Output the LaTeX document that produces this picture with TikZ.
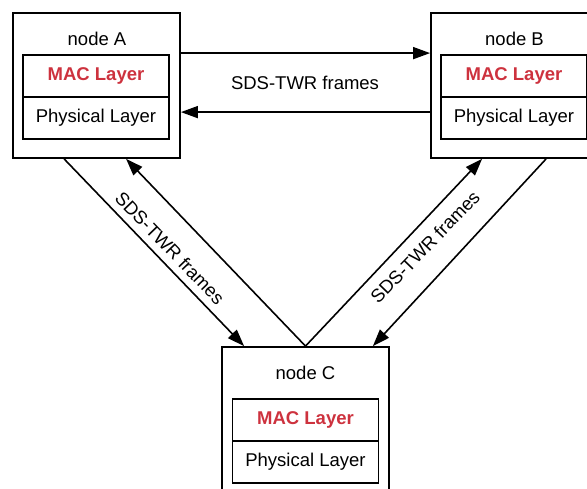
\documentclass[tikz,border=0pt]{standalone}
\usepackage{fontspec}
\setmainfont{Liberation Sans}
\usetikzlibrary{arrows.meta}
\definecolor{macred}{RGB}{205,50,62}

\tikzset{
  outerbox/.style={draw,line width=1.8pt,minimum width=167pt,minimum height=145pt,inner sep=0pt},
  layerbox/.style={draw,line width=1.8pt,minimum width=146pt,minimum height=42pt,inner sep=0pt},
  maclayer/.style={layerbox,text=macred,font=\fontsize{18.5}{22}\selectfont\bfseries},
  frame/.style={-{Triangle[length=17pt,width=12pt]},line width=1.6pt},
}

\begin{document}
\begin{tikzpicture}[x=1pt,y=-1pt,font=\fontsize{18.5}{22}\selectfont]
 	 	\useasboundingbox (0,0) rectangle (587,489);
 	 	\clip (0,0) rectangle (587,489);

 	 	\node[outerbox] (boxA) at (96.5,85.5) {};
 	 	\node[outerbox] (boxB) at (514.5,85.5) {};
 	 	\node[outerbox] (boxC) at (305.5,419.5) {};

 	 	\node (titleA) at (97,39) {node A};
 	 	\node (titleB) at (514.5,39) {node B};
 	 	\node (titleC) at (305.5,373) {node C};

 	 	\node[maclayer] (macA) at (96,76) {MAC Layer};
 	 	\node[layerbox] (phyA) at (96,118) {Physical Layer};
 	 	\node[maclayer] (macB) at (514,76) {MAC Layer};
 	 	\node[layerbox] (phyB) at (514,118) {Physical Layer};
 	 	\node[maclayer] (macC) at (305.5,420) {MAC Layer};
 	 	\node[layerbox] (phyC) at (305.5,462) {Physical Layer};

 	 	\draw[frame] ([yshift=-41pt]boxA.north east) -- ([yshift=-41pt]boxB.north west);
 	 	\draw[frame] ([yshift=-100pt]boxB.north west) -- ([yshift=-100pt]boxA.north east);
 	 	\draw[frame] ([xshift=52pt]boxA.south west) -- ([xshift=23pt]boxC.north west);
 	 	\draw[frame] (boxC.north) -- ([xshift=114pt]boxA.south west);
 	 	\draw[frame] (boxC.north) -- ([xshift=52pt]boxB.south west);
 	 	\draw[frame] ([xshift=116pt]boxB.south west) -- ([xshift=-17pt]boxC.north east);

 	 	\node (lblAB) at (305,83) {SDS-TWR frames};
 	 	\node[rotate=-46] (lblAC) at (170,248) {SDS-TWR frames};
 	 	\node[rotate=46] (lblBC) at (425,247) {SDS-TWR frames};
 	 \end{tikzpicture}
\end{document}
